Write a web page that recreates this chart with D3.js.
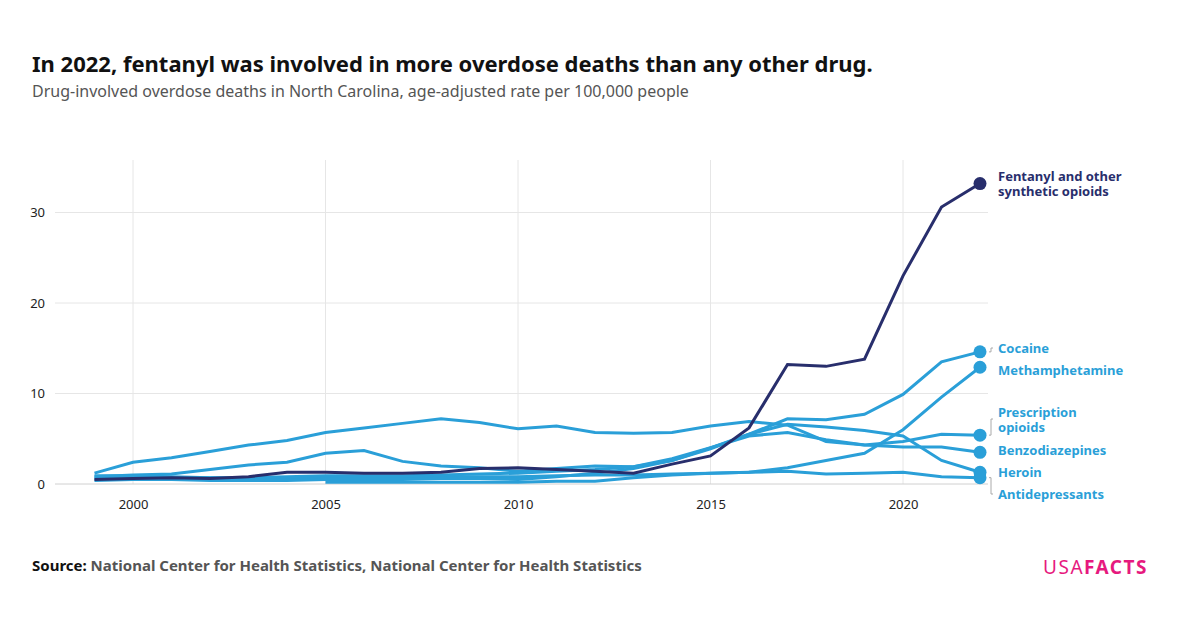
<!DOCTYPE html><html><head><meta charset="utf-8"><script src="https://cdn.jsdelivr.net/npm/d3@7"></script>
<style>body{margin:0;background:#fff;font-family:"Source Sans Pro","Noto Sans",sans-serif}</style></head><body><svg id="c" width="1200" height="628"></svg><script>
const years=d3.range(1999,2023);
const fentanyl=[0.5,0.6,0.7,0.6,0.8,1.3,1.3,1.2,1.2,1.3,1.7,1.8,1.6,1.4,1.2,2.2,3.1,6.2,13.2,13.0,13.8,23.0,30.6,33.2];
const cocaine=[0.9,0.9,0.8,0.7,0.7,0.8,0.9,0.9,0.9,1.0,1.1,1.2,1.4,1.6,1.9,2.6,4.0,5.5,7.2,7.1,7.7,9.9,13.5,14.6];
const meth=[null,null,null,null,null,null,0.2,0.2,0.2,0.2,0.2,0.2,0.3,0.3,0.7,1.0,1.2,1.3,1.8,2.6,3.4,6.0,9.6,12.9];
const rx=[1.2,2.4,2.9,3.6,4.3,4.8,5.7,6.2,6.7,7.2,6.8,6.1,6.4,5.7,5.6,5.7,6.4,6.9,6.5,4.7,4.3,4.7,5.5,5.4];
const benzo=[0.8,1.0,1.1,1.6,2.1,2.4,3.4,3.7,2.5,2.0,1.8,1.4,1.7,2.0,1.9,2.8,4.0,5.3,5.7,4.9,4.3,4.1,4.1,3.5];
const heroin=[0.4,0.5,0.5,0.4,0.4,0.4,0.5,0.5,0.5,0.6,0.6,0.5,0.8,1.2,1.7,2.6,3.9,5.5,6.6,6.3,5.9,5.3,2.6,1.3];
const antidep=[0.6,0.7,0.7,0.7,0.6,0.6,0.7,0.7,0.7,0.8,0.8,0.8,0.9,1.0,1.0,1.1,1.2,1.3,1.4,1.1,1.2,1.3,0.8,0.7];
const series=[
 {name:["Antidepressants"],v:antidep,c:"#2a9fd8",ly:494},
 {name:["Heroin"],v:heroin,c:"#2a9fd8",ly:472},
 {name:["Benzodiazepines"],v:benzo,c:"#2a9fd8",ly:450},
 {name:["Prescription","opioids"],v:rx,c:"#2a9fd8",ly:412},
 {name:["Methamphetamine"],v:meth,c:"#2a9fd8",ly:370},
 {name:["Cocaine"],v:cocaine,c:"#2a9fd8",ly:348},
 {name:["Fentanyl and other","synthetic opioids"],v:fentanyl,c:"#282e6c",ly:176}];
const svg=d3.select("#c");
const x=d3.scaleLinear().domain([1999,2022]).range([94.5,980]);
const y=d3.scaleLinear().domain([0,10]).range([484,393.5]);
const g=svg.append("g");
g.selectAll(".vg").data([2000,2005,2010,2015,2020]).join("line").attr("x1",d=>x(d)).attr("x2",d=>x(d)).attr("y1",160).attr("y2",484).attr("stroke","#e6e6e6");
g.selectAll(".hg").data([0,10,20,30]).join("line").attr("x1",55).attr("x2",988).attr("y1",d=>y(d)).attr("y2",d=>y(d)).attr("stroke",d=>d?"#e6e6e6":"#d0d0d0");
g.append("g").attr("transform","translate(0,484)").call(d3.axisBottom(x).tickValues([2000,2005,2010,2015,2020]).tickFormat(d3.format("d")).tickSize(0).tickPadding(16)).call(a=>a.select(".domain").remove()).selectAll("text").attr("font-size",13).attr("fill","#222").attr("font-family","Source Sans Pro,Noto Sans");
g.append("g").attr("transform","translate(48,0)").call(d3.axisLeft(y).tickValues([0,10,20,30]).tickSize(0)).call(a=>a.select(".domain").remove()).selectAll("text").attr("font-size",13).attr("fill","#222").attr("text-anchor","end").attr("font-family","Source Sans Pro,Noto Sans");
const line=d3.line().defined(d=>d[1]!=null).x(d=>x(d[0])).y(d=>y(d[1]));
series.forEach(s=>{
 g.append("path").datum(years.map((yr,i)=>[yr,s.v[i]])).attr("d",line).attr("fill","none").attr("stroke",s.c).attr("stroke-width",3);
});
series.forEach(s=>{
 const last=s.v[s.v.length-1];
 const cy=y(last);
 const mid=s.ly+(s.name.length-1)*7;
 if(Math.abs(mid-cy)>3) g.append("path").attr("d",`M989,${cy} L991,${cy} L991,${mid} L993,${mid}`).attr("fill","none").attr("stroke","#aaa").attr("stroke-width",1);
 g.append("circle").attr("cx",x(2022)).attr("cy",cy).attr("r",6.5).attr("fill",s.c);
 s.name.forEach((n,i)=>g.append("text").attr("x",998).attr("y",s.ly+5+i*15).attr("fill",s.c).attr("font-weight",700).attr("font-size",13).text(n));
});
svg.append("text").attr("x",32).attr("y",72).attr("font-size",22).attr("font-weight",700).attr("fill","#111").text("In 2022, fentanyl was involved in more overdose deaths than any other drug.");
svg.append("text").attr("x",32).attr("y",97).attr("font-size",16).attr("fill","#555").text("Drug-involved overdose deaths in North Carolina, age-adjusted rate per 100,000 people");
const src=svg.append("text").attr("x",32).attr("y",571).attr("font-size",15).attr("font-weight",700);
src.append("tspan").attr("fill","#111").text("Source: ");
src.append("tspan").attr("fill","#555").text("National Center for Health Statistics, National Center for Health Statistics");
const lg=svg.append("text").attr("x",1148).attr("y",574).attr("text-anchor","end").attr("font-size",19).attr("letter-spacing",1.5).attr("fill","#e6197e");
lg.append("tspan").text("USA");lg.append("tspan").attr("font-weight",700).text("FACTS");
</script></body></html>
